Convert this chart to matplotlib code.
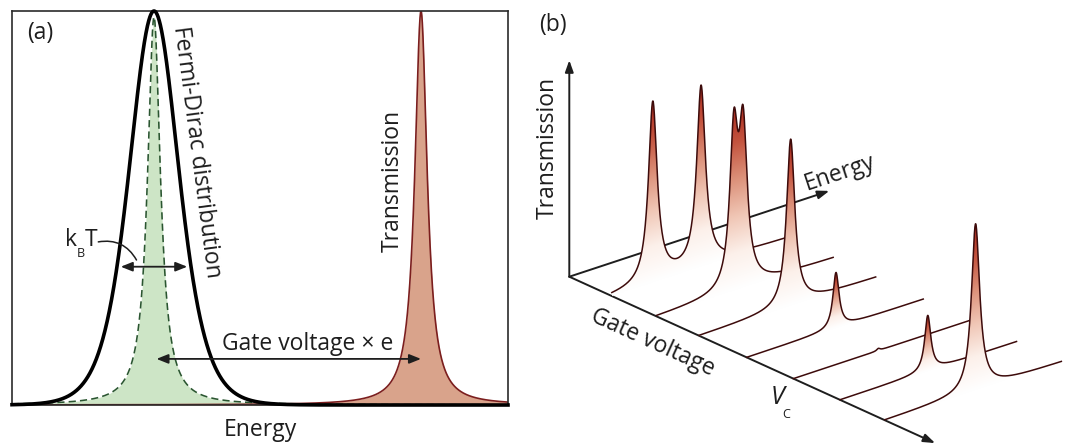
import numpy as np
import matplotlib
matplotlib.use('Agg')
import matplotlib.pyplot as plt
from matplotlib.colors import LinearSegmentedColormap
from matplotlib.patches import Polygon

plt.rcParams['font.family'] = ['Open Sans', 'DejaVu Sans']
plt.rcParams['mathtext.fontset'] = 'custom'
plt.rcParams['mathtext.rm'] = 'Open Sans'
plt.rcParams['mathtext.it'] = 'Open Sans:italic'

# ---- panel (a): energy window vs transmission peak
fd_center = 2.863      # Fermi level
kT = 0.335             # thermal energy
green_height = 0.985
green_hwhm = 0.157
trans_center = 8.246
trans_height = 1.0
trans_hwhm = 0.151

# ---- panel (b): transmission traces for several gate voltages
gate_values = [0.93, 1.91, 2.84, 3.88, 4.90, 5.92, 6.90]
trace_length = 7.06
peak_trace = [0, 0, 1, 1, 2, 3, 4, 5, 6]
peak_energy = [1.64, 3.57, 3.09, 3.46, 3.66, 3.57, 3.40, 3.51, 3.63]
peak_height = [0.97, 0.97, 0.81, 0.81, 0.90, 0.30, 0.012, 0.30, 0.90]
peak_width = [0.21, 0.21, 0.195, 0.195, 0.20, 0.15, 0.08, 0.15, 0.20]
energy_axis_len = 10.4
gate_axis_len = 8.0
trans_axis_len = 1.17

FS = 16.5
dark = '#1e1e1e'

fig = plt.figure(figsize=(10.68, 4.46), dpi=100)

# ================= (a)
ax = fig.add_axes([12/1068, 1-405/446, 496/1068, 394/446])
ax.set_xlim(0, 10)
ax.set_ylim(0, 1)
ax.set_xticks([])
ax.set_yticks([])
for s in ax.spines.values():
    s.set_color('#2b2b2b')
    s.set_linewidth(1.2)

E = np.linspace(0, 10, 3000)
fd = 1/np.cosh((E-fd_center)/(2*kT))**2
green = green_height/(1+((E-fd_center)/green_hwhm)**2)
trans = trans_height/(1+((E-trans_center)/trans_hwhm)**2)

ax.fill_between(E, 0, green, color='#cde5c6', lw=0, zorder=1)
ax.plot(E, green, color='#2a5530', lw=1.15, dashes=(4.5, 2.6), zorder=2)
ax.fill_between(E, 0, trans, color='#d9a38b', lw=0, zorder=1)
ax.plot(E, trans, color='#7b1e1e', lw=1.2, zorder=2)
ax.plot(E, fd, color='black', lw=2.6, zorder=3, clip_on=False)

arr = dict(arrowstyle='<|-|>,head_length=0.7,head_width=0.28', color=dark, lw=1.3,
           shrinkA=0, shrinkB=0)
ax.annotate('', xy=(fd_center-2*kT, 0.351), xytext=(fd_center+2*kT, 0.351), arrowprops=arr, zorder=4)
ax.annotate('', xy=(fd_center+0.05, 0.117), xytext=(trans_center, 0.117), arrowprops=arr, zorder=4)

# k_B T label with curved leader
ax.text(1.06, 0.418, 'k', fontsize=FS, ha='left', va='center', color=dark)
ax.text(1.31, 0.385, 'B', fontsize=FS*0.55, ha='left', va='center', color=dark)
ax.text(1.47, 0.418, 'T', fontsize=FS, ha='left', va='center', color=dark)
ax.annotate('', xy=(2.51, 0.368), xytext=(1.74, 0.414),
            arrowprops=dict(arrowstyle='-', color=dark, lw=1.1, shrinkA=0, shrinkB=0,
                            connectionstyle='arc3,rad=-0.35'))
ax.text(5.97, 0.155, 'Gate voltage × e', fontsize=FS, ha='center', va='center', color=dark)
ax.text(3.73, 0.642, 'Fermi-Dirac distribution', fontsize=FS, rotation=-82.5,
        rotation_mode='anchor', ha='center', va='center', color=dark)
ax.text(7.68, 0.569, 'Transmission', fontsize=FS, rotation=90, rotation_mode='anchor',
        ha='center', va='center', color=dark)
ax.text(0.565, 0.944, '(a)', fontsize=FS, ha='center', va='center', color=dark)
ax.text(5.0, -0.063, 'Energy', fontsize=FS, ha='center', va='center', color=dark, clip_on=False)

# ================= (b)
bx = fig.add_axes([520/1068, 0, 548/1068, 1])
bx.set_xlim(520, 1068)
bx.set_ylim(446, 0)
bx.axis('off')

origin = (569.3, 276.7)
e_vec = (25.0, -8.25)
g_vec = (45.73, 20.8)
t_scale = 185.0


def proj(en, g, t):
    x = origin[0] + np.asarray(en)*e_vec[0] + g*g_vec[0]
    y = origin[1] + np.asarray(en)*e_vec[1] + g*g_vec[1] - np.asarray(t)*t_scale
    return x, y


axarr = dict(arrowstyle='-|>,head_length=0.7,head_width=0.25', color=dark, lw=1.4,
             shrinkA=0, shrinkB=0)
bx.annotate('', xy=proj(energy_axis_len, 0, 0), xytext=proj(0, 0, 0), arrowprops=axarr, zorder=5)
bx.annotate('', xy=proj(0, gate_axis_len, 0), xytext=proj(0, 0, 0), arrowprops=axarr, zorder=5)
bx.annotate('', xy=proj(0, 0, trans_axis_len), xytext=proj(0, 0, 0), arrowprops=axarr, zorder=5)

peak_cmap = LinearSegmentedColormap.from_list(
    'peak', ['#ffffff', '#fcf0ea', '#f0c6b5', '#dc917a', '#c4543f', '#a9291d'])
line_color = '#3d0b0b'

Eg = np.linspace(0, trace_length, 1200)
for k, g in enumerate(gate_values):
    T = np.zeros_like(Eg)
    for tr, e0, h, w in zip(peak_trace, peak_energy, peak_height, peak_width):
        if tr == k:
            T += h/(1+((Eg-e0)/w)**2)
    cx, cy = proj(Eg, g, T)
    lx, ly = proj(Eg, g, np.zeros_like(Eg))
    zo = 10 + 3*k
    tmax = T.max()
    if tmax > 0.05:
        poly = Polygon(np.column_stack([np.r_[cx, lx[::-1]], np.r_[cy, ly[::-1]]]),
                       closed=True, facecolor='none', edgecolor='none')
        bx.add_patch(poly)
        xs = np.linspace(cx.min(), cx.max(), 400)
        ys = np.linspace(cy.min(), ly.max(), 400)
        XX, YY = np.meshgrid(xs, ys)
        EE = (XX - proj(0, g, 0)[0])/e_vec[0]
        base_y = proj(EE, g, 0)[1]
        val = np.clip((base_y - YY)/t_scale/tmax, 0, 1)
        im = bx.imshow(val, cmap=peak_cmap, vmin=0, vmax=1, origin='upper', aspect='auto',
                       extent=(xs[0], xs[-1], ys[-1], ys[0]), zorder=zo, interpolation='bilinear')
        im.set_clip_path(poly)
    bx.plot(cx, cy, color=line_color, lw=1.1, zorder=zo+1)

bx.set_xlim(520, 1068)
bx.set_ylim(446, 0)

bx.text(553, 25, '(b)', fontsize=FS, ha='center', va='center', color=dark)
bx.text(548, 148, 'Transmission', fontsize=FS, rotation=90, rotation_mode='anchor',
        ha='center', va='center', color=dark)
bx.text(840, 173, 'Energy', fontsize=FS, rotation=18.3, rotation_mode='anchor',
        ha='center', va='center', color=dark)
bx.text(653, 343, 'Gate voltage', fontsize=FS, rotation=-24.5, rotation_mode='anchor',
        ha='center', va='center', color=dark)
bx.text(778, 397, 'V', fontsize=FS+1.5, style='italic', ha='center', va='center', color=dark)
bx.text(786, 414, 'C', fontsize=FS*0.55, ha='center', va='center', color=dark)

fig.savefig('out.png', dpi=100)
